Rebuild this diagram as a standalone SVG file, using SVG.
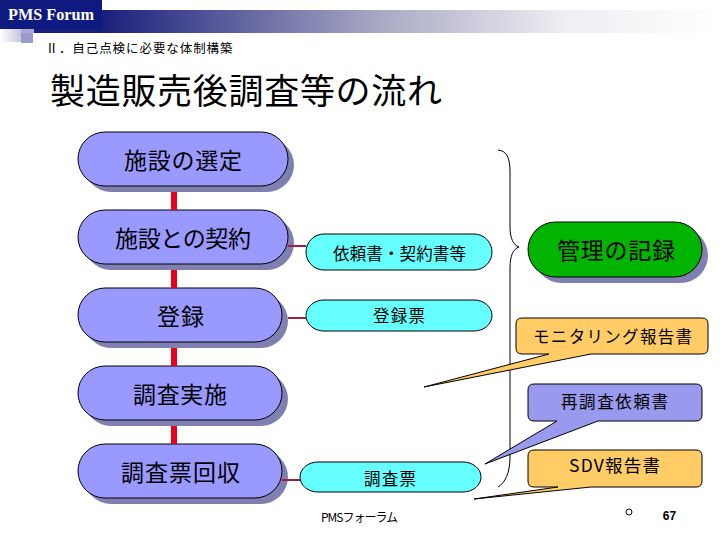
<svg xmlns="http://www.w3.org/2000/svg" width="720" height="540" viewBox="0 0 720 540">
<defs>
<linearGradient id="band" x1="0" y1="0" x2="1" y2="0"><stop offset="0" stop-color="#1a1f7c"/><stop offset="0.45" stop-color="#a9a9c4"/><stop offset="0.75" stop-color="#eeeef3"/><stop offset="1" stop-color="#ffffff"/></linearGradient>
<linearGradient id="pale" x1="0" y1="0" x2="1" y2="0"><stop offset="0" stop-color="#ffffff"/><stop offset="1" stop-color="#c4c4e2"/></linearGradient>
</defs>
<style>
text{font-family:"Noto Sans CJK JP","Liberation Sans",sans-serif;fill:#000;text-anchor:middle}
.shadow{fill:#7f7fb2}
.main{fill:#9999ff;stroke:#000;stroke-width:1}
.cyan{fill:#66ffff;stroke:#000;stroke-width:1}
.green{fill:#00b400;stroke:#000;stroke-width:1}
.orange{fill:#ffcc66;stroke:#000;stroke-width:1}
.callblue{fill:#9999ee;stroke:#000;stroke-width:1}
.bar{fill:#e8001c}
.link{stroke:#a0203c;stroke-width:2;fill:none}
.brace{fill:none;stroke:#000;stroke-width:1}
.n{font-size:23px}
.s{font-size:16.5px}
</style>
<rect width="720" height="540" fill="#fff"/>
<g id="banner">
<rect x="102" y="10" width="618" height="23" fill="url(#band)"/>
<rect x="0" y="29" width="21" height="13" fill="url(#pale)"/>
<rect x="21" y="29" width="22" height="4" fill="#a9a9d6"/>
<rect x="21" y="33" width="12" height="10" fill="#9a9acc"/>
<rect x="0" y="0" width="102" height="29" fill="#0f1a80"/>
<rect x="34" y="29" width="68" height="4" fill="#1a1f7c"/>
<text x="51" y="20" textLength="86" lengthAdjust="spacingAndGlyphs" style="font-family:'Liberation Serif',serif;font-weight:bold;font-size:16px;fill:#fff">PMS Forum</text>
</g>
<text id="subtitle" x="139" y="53" textLength="187" style="font-size:12.5px">Ⅱ．自己点検に必要な体制構築</text>
<text id="title" x="246" y="104" textLength="392" style="font-size:35px">製造販売後調査等の流れ</text>
<g id="node-select"><rect class="shadow" x="84" y="138" width="210" height="54" rx="27"/><rect class="main" x="78" y="132" width="210" height="54" rx="27"/><text class="n" x="183" y="169" textLength="118">施設の選定</text></g>
<g id="node-contract"><rect class="shadow" x="84" y="216" width="210" height="54" rx="27"/><rect class="main" x="78" y="210" width="210" height="54" rx="27"/><text class="n" x="183" y="247" textLength="136">施設との契約</text></g>
<g id="node-register"><rect class="shadow" x="84" y="294" width="204" height="54" rx="27"/><rect class="main" x="78" y="288" width="204" height="54" rx="27"/><text class="n" x="180.500" y="325" textLength="47">登録</text></g>
<g id="node-survey"><rect class="shadow" x="84" y="372" width="204" height="54" rx="27"/><rect class="main" x="78" y="366" width="204" height="54" rx="27"/><text class="n" x="180" y="403" textLength="94">調査実施</text></g>
<g id="node-collect"><rect class="shadow" x="84" y="450" width="204" height="54" rx="27"/><rect class="main" x="78" y="444" width="204" height="54" rx="27"/><text class="n" x="180.500" y="481" textLength="119">調査票回収</text></g>
<g id="doc-contract"><rect class="cyan" x="306" y="234" width="186" height="36" rx="18" ry="18"/><text class="s" x="399.500" y="260" textLength="133">依頼書・契約書等</text></g>
<g id="doc-register"><rect class="cyan" x="306" y="300" width="186" height="31" rx="18" ry="15.500"/><text class="s" x="399" y="322" textLength="52">登録票</text></g>
<g id="doc-survey"><rect class="cyan" x="300" y="462" width="181" height="30" rx="18" ry="15"/><text class="s" x="390" y="485" textLength="52">調査票</text></g>
<g id="node-record"><rect class="shadow" x="534" y="228" width="174" height="55" rx="27.500"/><rect class="green" x="528" y="222" width="174" height="55" rx="27.500"/><text class="n" x="616" y="259" textLength="118">管理の記録</text></g>
<g id="connectors">
<rect class="bar" x="171" y="192" width="6" height="18"/>
<rect class="bar" x="171" y="270" width="6" height="18"/>
<rect class="bar" x="171" y="348" width="6" height="18"/>
<rect class="bar" x="171" y="426" width="6" height="18"/>
<path class="link" d="M288 246H306M288 318H306M282 480H300"/>
<path class="brace" d="M498 150C507 151 510 158 510 172V226C510 238 513 245 519 247C513 249 510 256 510 268V457C510 473 505 483 498 487"/>
</g>
<g id="call-monitor"><path class="orange" d="M522 318H702Q708 318 708 324V348Q708 354 702 354H591L424 387L549 354H522Q516 354 516 348V324Q516 318 522 318Z"/><text class="s" x="612.500" y="343" textLength="159">モニタリング報告書</text></g>
<g id="call-resurvey"><path class="callblue" d="M534 384H696Q702 384 702 390V415Q702 421 696 421H598L485 464L557 421H534Q528 421 528 415V390Q528 384 534 384Z"/><text class="s" x="614.500" y="408" textLength="107">再調査依頼書</text></g>
<g id="call-sdv"><path class="orange" d="M534 450H696Q702 450 702 456V481Q702 487 696 487H591L474 499L558 487H534Q528 487 528 481V456Q528 450 534 450Z"/><text x="614.500" y="472" textLength="91" style="font-size:17.500px">SDV報告書</text></g>
<text id="footer" x="359.500" y="522" textLength="77" style="font-size:12px">PMSフォーラム</text>
<circle id="dot" cx="629" cy="512" r="3" fill="#fff" stroke="#000"/>
<text id="page" x="669.500" y="520" style="font-size:12px;font-weight:bold;font-family:'Liberation Sans',sans-serif">67</text>
</svg>
